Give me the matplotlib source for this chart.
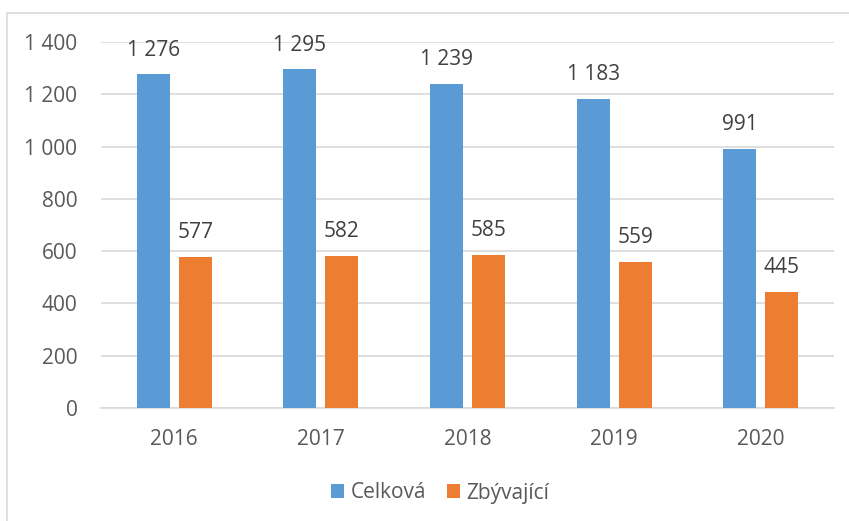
import matplotlib
matplotlib.use("Agg")
import matplotlib.pyplot as plt
from matplotlib.patches import Rectangle
import numpy as np

years = ["2016", "2017", "2018", "2019", "2020"]
celkova = [1276, 1295, 1239, 1183, 991]
zbyvajici = [577, 582, 585, 559, 445]
series_names = ["Celková", "Zbývající"]

blue = "#5B9BD5"
orange = "#ED7D31"

def fmt(v):
    return "{:,}".format(int(v)).replace(",", " ")

plt.rcParams['font.family'] = ['Open Sans', 'DejaVu Sans']

W, H = 849, 521
fig = plt.figure(figsize=(W / 100, H / 100), dpi=100)
# plot area in pixels: x 101..834, y 42..408
ax = fig.add_axes([101 / W, 1 - 408 / H, (834 - 101) / W, (408 - 42) / H])

# chart border
fig.patches.append(Rectangle((7 / W, -0.1), 1.1, 1 - 13 / H + 0.1, transform=fig.transFigure,
                             fill=False, edgecolor="#d9d9d9", linewidth=1.2))

x = np.arange(len(years))
bw = 0.225
off = (bw + 0.061) / 2
b1 = ax.bar(x - off, celkova, bw, color=blue, label=series_names[0], zorder=3)
b2 = ax.bar(x + off, zbyvajici, bw, color=orange, label=series_names[1], zorder=3)

for bars, vals in ((b1, celkova), (b2, zbyvajici)):
    for r, v in zip(bars, vals):
        ax.annotate(fmt(v), (r.get_x() + r.get_width() / 2, v), xytext=(0, 17.5),
                    textcoords="offset points", ha="center", va="center",
                    fontsize=15, color="#404040")

ax.set_xlim(-0.5, len(years) - 0.5)
ax.set_ylim(0, 1400)
ax.set_yticks(range(0, 1401, 200))
ax.set_yticklabels([fmt(v) for v in range(0, 1401, 200)])
ax.set_xticks(x)
ax.set_xticklabels(years)
ax.tick_params(axis="both", length=0, labelsize=15, labelcolor="#595959")
ax.tick_params(axis="y", pad=17)
ax.tick_params(axis="x", pad=15)
ax.grid(axis="y", color="#d9d9d9", linewidth=1.2, zorder=0)
for s in ("top", "right", "left"):
    ax.spines[s].set_visible(False)
ax.spines["bottom"].set_color("#d9d9d9")
ax.spines["bottom"].set_linewidth(1.2)

leg = fig.legend(loc="center", bbox_to_anchor=(440 / W, 1 - 493 / H), ncol=2, frameon=False,
                 fontsize=15, handlelength=0.65, handleheight=0.65, handletextpad=0.3,
                 columnspacing=1.0)
for t in leg.get_texts():
    t.set_color("#595959")

fig.savefig("out.png", dpi=100)
